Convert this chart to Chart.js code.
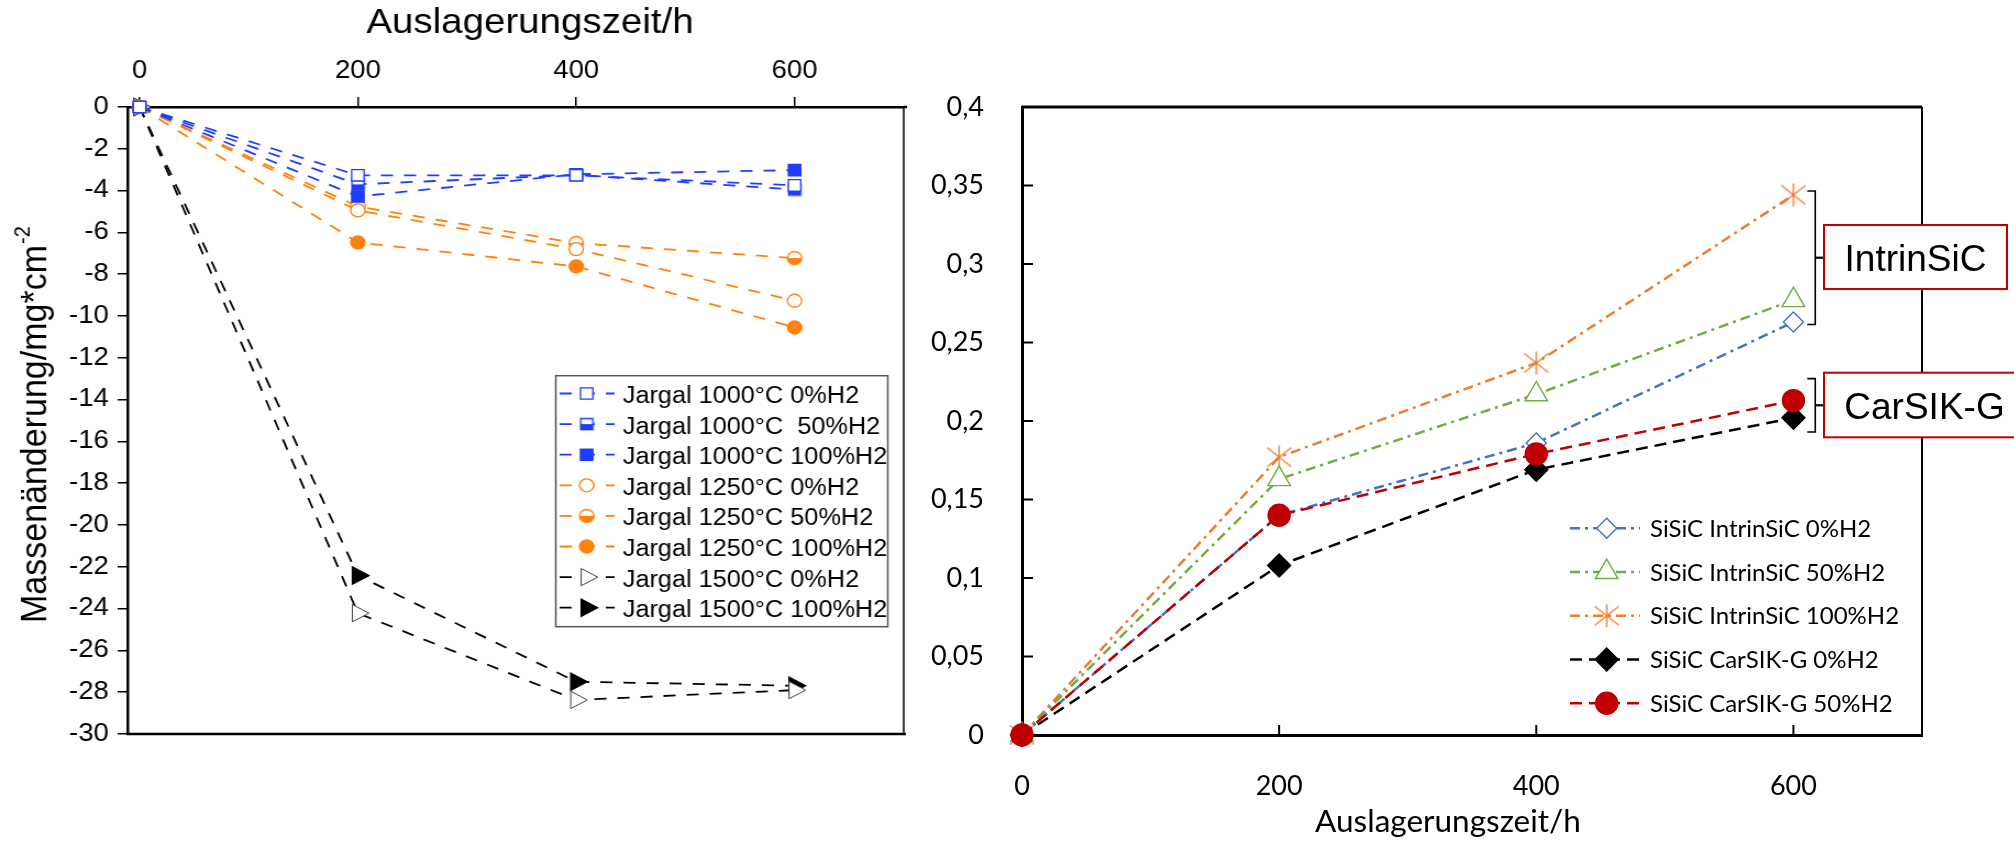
<!DOCTYPE html>
<html>
<head>
<meta charset="utf-8">
<script src="https://cdn.jsdelivr.net/npm/chart.js@4.4.1/dist/chart.umd.min.js"></script>
<style>
  html, body { margin: 0; padding: 0; background: #fff; }
  #wrap { position: relative; width: 2014px; height: 842px; overflow: hidden; }
  #left { position: absolute; left: 0; top: 0; }
  #right { position: absolute; left: 910px; top: 0; }
</style>
</head>
<body>
<div id="wrap">
  <!-- left panel is drawn a bit narrower and stretched, like the original figure -->
  <canvas id="left" width="855" height="842" style="width:940px;height:842px"></canvas>
  <canvas id="right" width="1104" height="842" style="width:1104px;height:842px"></canvas>
</div>
<script>
// ---------- data ----------
const hours = [0, 200, 400, 600];

// left: Jargal, Massenänderung / mg*cm^-2
const jargal1000_0   = [0, -3.27, -3.27, -3.75];
const jargal1000_50  = [0, -3.70, -3.25, -3.95];
const jargal1000_100 = [0, -4.28, -3.22, -3.02];
const jargal1250_0   = [0, -4.95, -6.80, -9.27];
const jargal1250_50  = [0, -4.76, -6.51, -7.23];
const jargal1250_100 = [0, -6.48, -7.63, -10.55];
const jargal1500_0   = [0, -24.22, -28.37, -27.90];
const jargal1500_100 = [0, -22.42, -27.50, -27.69];

const leftNames = ['Jargal 1000°C 0%H2', 'Jargal 1000°C  50%H2', 'Jargal 1000°C 100%H2',
                   'Jargal 1250°C 0%H2', 'Jargal 1250°C 50%H2', 'Jargal 1250°C 100%H2',
                   'Jargal 1500°C 0%H2', 'Jargal 1500°C 100%H2'];
const leftXTicks = [0, 200, 400, 600];
const leftYTicks = [0, -2, -4, -6, -8, -10, -12, -14, -16, -18, -20, -22, -24, -26, -28, -30];

// right: SiSiC
const intrinsic0   = [0, 0.140, 0.186, 0.263];
const intrinsic50  = [0, 0.163, 0.217, 0.277];
const intrinsic100 = [0, 0.177, 0.237, 0.344];
const carsik0      = [0, 0.108, 0.169, 0.202];
const carsik50     = [0, 0.140, 0.179, 0.213];

const rightNames = ['SiSiC IntrinSiC 0%H2', 'SiSiC IntrinSiC 50%H2', 'SiSiC IntrinSiC 100%H2',
                    'SiSiC CarSIK-G 0%H2', 'SiSiC CarSIK-G 50%H2'];
const rightXTicks = [0, 200, 400, 600];
const rightYTicks = [0, 0.05, 0.1, 0.15, 0.2, 0.25, 0.3, 0.35, 0.4];
const rightYLabels = ['0', '0,05', '0,1', '0,15', '0,2', '0,25', '0,3', '0,35', '0,4'];

// ---------- helpers ----------
const FONT_L = '"Liberation Sans", Arial, sans-serif';
const FONT_R = 'Lato, "Open Sans", sans-serif';
const pts = ys => hours.map((h, i) => ({x: h, y: ys[i]}));

function halfMarker(kind, color, size) {
  const c = document.createElement('canvas');
  c.width = size + 3; c.height = size + 3;
  const g = c.getContext('2d');
  const m = c.width / 2, r = size / 2;
  const shape = () => {
    g.beginPath();
    if (kind === 'rect') g.rect(m - r, m - r, size, size);
    else g.arc(m, m, r, 0, Math.PI * 2);
  };
  shape(); g.fillStyle = '#fff'; g.fill();
  g.save(); g.beginPath(); g.rect(0, m, c.width, c.height); g.clip();
  shape(); g.fillStyle = color; g.fill(); g.restore();
  shape(); g.lineWidth = 1.4; g.strokeStyle = color; g.stroke();
  return c;
}

function asterisk(color, w, h) {
  const c = document.createElement('canvas');
  c.width = w + 2; c.height = h + 2;
  const g = c.getContext('2d');
  g.strokeStyle = color; g.lineWidth = 1.4;
  g.beginPath();
  g.moveTo(c.width / 2, 1); g.lineTo(c.width / 2, h + 1);
  g.moveTo(1, 3); g.lineTo(w + 1, h - 1);
  g.moveTo(w + 1, 3); g.lineTo(1, h - 1);
  g.stroke();
  return c;
}

function legendRow(ctx, ds, x1, x2, xm, y, text, tx, font, dy) {
  ctx.save();
  ctx.strokeStyle = ds.borderColor;
  ctx.lineWidth = ds.borderWidth;
  ctx.setLineDash(ds.borderDash || []);
  ctx.beginPath(); ctx.moveTo(x1, y); ctx.lineTo(x2, y); ctx.stroke();
  ctx.setLineDash([]);
  ctx.fillStyle = ds.pointBackgroundColor;
  ctx.strokeStyle = ds.pointBorderColor;
  ctx.lineWidth = ds.pointBorderWidth;
  Chart.helpers.drawPoint(ctx, {pointStyle: ds.pointStyle, rotation: ds.pointRotation || 0,
    radius: ds.pointRadius, borderWidth: ds.pointBorderWidth}, xm, y);
  ctx.fillStyle = '#000';
  ctx.font = font;
  ctx.textBaseline = 'alphabetic';
  ctx.fillText(text, tx, y + dy);
  ctx.restore();
}

function centerText(ctx, text, x, y, font) {
  ctx.save();
  ctx.fillStyle = '#000';
  ctx.font = font;
  ctx.textAlign = 'center';
  ctx.textBaseline = 'middle';
  ctx.fillText(text, x, y);
  ctx.restore();
}

// ---------- left chart ----------
const BLUE = '#1f3dff', ORANGE = '#ff800a', BLACK = '#000000';

function leftSet(i, ys, color, style, bg, radius, rot) {
  return {
    label: leftNames[i], data: pts(ys),
    borderColor: color, borderWidth: 1.8, borderDash: [11, 10],
    pointStyle: style, pointRadius: radius, pointRotation: rot || 0,
    pointBackgroundColor: bg, pointBorderColor: color, pointBorderWidth: 1.3,
    tension: 0, fill: false, clip: false
  };
}

const leftSets = [
  leftSet(0, jargal1000_0, BLUE, 'rect', '#fff', 8),
  leftSet(1, jargal1000_50, BLUE, halfMarker('rect', BLUE, 11), BLUE, 8),
  leftSet(2, jargal1000_100, BLUE, 'rect', BLUE, 8),
  leftSet(3, jargal1250_0, ORANGE, 'circle', '#fff', 6.5),
  leftSet(4, jargal1250_50, ORANGE, halfMarker('circle', ORANGE, 13), ORANGE, 6.5),
  leftSet(5, jargal1250_100, ORANGE, 'circle', ORANGE, 6.5),
  leftSet(6, jargal1500_0, BLACK, 'triangle', '#fff', 10, 90),
  leftSet(7, jargal1500_100, BLACK, 'triangle', BLACK, 10, 90)
];
leftSets[6].pointBorderColor = '#444';
leftSets[6].pointBorderWidth = 1;

const leftDecor = {
  id: 'leftDecor',
  beforeDatasetsDraw(chart) {
    const {ctx, chartArea: a} = chart;
    ctx.save();
    ctx.strokeStyle = '#000';
    ctx.lineWidth = 2.5;
    ctx.beginPath(); ctx.moveTo(a.left - 1, a.bottom); ctx.lineTo(a.right + 2, a.bottom); ctx.stroke();
    ctx.beginPath(); ctx.moveTo(a.right, a.top); ctx.lineTo(a.right + 3, a.top); ctx.stroke();
    ctx.lineWidth = 1.5;
    ctx.beginPath(); ctx.moveTo(a.right, a.top); ctx.lineTo(a.right, a.bottom); ctx.stroke();
    ctx.restore();
  },
  afterDraw(chart) {
    const ctx = chart.ctx;
    // x title (top)
    centerText(ctx, 'Auslagerungszeit/h', 482, 23, '35px ' + FONT_L);

    // y title with superscript
    ctx.save();
    ctx.translate(42, 623);
    ctx.rotate(-Math.PI / 2);
    ctx.fillStyle = '#000';
    ctx.font = '34px ' + FONT_L;
    ctx.textBaseline = 'alphabetic';
    const main = 'Massenänderung/mg*cm';
    ctx.fillText(main, 0, 0);
    const w = ctx.measureText(main).width;
    ctx.font = '20px ' + FONT_L;
    ctx.fillText('-2', w + 1, -15.5);
    ctx.restore();

    // legend box
    ctx.save();
    ctx.fillStyle = '#fff';
    ctx.fillRect(505.5, 375.7, 302, 251);
    ctx.strokeStyle = '#555';
    ctx.lineWidth = 1.5;
    ctx.strokeRect(505.5, 375.7, 302, 251);
    ctx.restore();
    chart.data.datasets.forEach((ds, i) => {
      legendRow(ctx, ds, 509, 559, 533.6, 393.5 + i * 30.6, ds.label, 566.4, '23px ' + FONT_L, 9.5);
    });
  }
};

new Chart(document.getElementById('left'), {
  type: 'line',
  data: {datasets: leftSets},
  options: {
    responsive: false,
    animation: false,
    events: [],
    layout: {autoPadding: false, padding: {left: 0, top: 0, right: 33, bottom: 108}},
    plugins: {legend: {display: false}, tooltip: {enabled: false}},
    scales: {
      x: {
        type: 'linear', position: 'top', min: -11, max: 700,
        afterBuildTicks: s => { s.ticks = leftXTicks.map(v => ({value: v})); },
        afterFit: s => { s.height = 107; },
        ticks: {font: {family: FONT_L, size: 25}, color: '#000', padding: 11, autoSkip: false},
        grid: {drawOnChartArea: false, drawTicks: true, tickLength: 10, color: '#000', lineWidth: 1.5},
        border: {display: true, color: '#000', width: 2.5}
      },
      y: {
        type: 'linear', min: -30, max: 0,
        afterBuildTicks: s => { s.ticks = leftYTicks.map(v => ({value: v})); },
        afterFit: s => { s.width = 116; },
        ticks: {font: {family: FONT_L, size: 25}, color: '#000', padding: 8, autoSkip: false},
        grid: {drawOnChartArea: false, drawTicks: true, tickLength: 9, color: '#000', lineWidth: 1.5},
        border: {display: true, color: '#000', width: 2.5}
      }
    }
  },
  plugins: [leftDecor]
});

// ---------- right chart ----------
const C_BLUE = '#4472c4', C_GREEN = '#70ad47', C_ORANGE = '#ed7d31', C_BLACK = '#000000', C_RED = '#c00000';
const DASHDOT = [10, 5, 3, 5], DASH = [12, 7];

function rightSet(i, ys, color, dash, style, bg, radius, order) {
  return {
    label: rightNames[i], data: pts(ys),
    borderColor: color, borderWidth: 2.5, borderDash: dash,
    pointStyle: style, pointRadius: radius,
    pointBackgroundColor: bg, pointBorderColor: color, pointBorderWidth: 1.4,
    tension: 0, fill: false, clip: false, order: order
  };
}

const rightSets = [
  rightSet(0, intrinsic0, C_BLUE, DASHDOT, 'rectRot', '#fff', 10, 3),
  rightSet(1, intrinsic50, C_GREEN, DASHDOT, 'triangle', '#fff', 13, 4),
  rightSet(2, intrinsic100, C_ORANGE, DASHDOT, asterisk(C_ORANGE, 24, 23), C_ORANGE, 12, 5),
  rightSet(3, carsik0, C_BLACK, DASH, 'rectRot', C_BLACK, 11.5, 2),
  rightSet(4, carsik50, C_RED, DASH, 'circle', C_RED, 11, 1)
];

const rightDecor = {
  id: 'rightDecor',
  beforeDatasetsDraw(chart) {
    const {ctx, chartArea: a, scales: {x, y}} = chart;
    ctx.save();
    ctx.strokeStyle = '#000';
    ctx.lineWidth = 3;
    ctx.beginPath(); ctx.moveTo(a.left, a.top); ctx.lineTo(a.right, a.top); ctx.stroke();
    ctx.lineWidth = 2;
    ctx.beginPath(); ctx.moveTo(a.right, a.top); ctx.lineTo(a.right, a.bottom); ctx.stroke();
    // inside tick marks
    ctx.lineWidth = 2;
    y.ticks.forEach(t => {
      const py = y.getPixelForValue(t.value);
      ctx.beginPath(); ctx.moveTo(a.left, py); ctx.lineTo(a.left + 11, py); ctx.stroke();
    });
    x.ticks.forEach(t => {
      const px = x.getPixelForValue(t.value);
      ctx.beginPath(); ctx.moveTo(px, a.bottom); ctx.lineTo(px, a.bottom - 10); ctx.stroke();
    });
    ctx.restore();
  },
  afterDraw(chart) {
    const {ctx, scales: {x, y}} = chart;
    // x title (bottom)
    centerText(ctx, 'Auslagerungszeit/h', 538, 822, '31.5px ' + FONT_R);

    // brackets + group boxes
    const groups = [
      {name: 'IntrinSiC', hi: 0.3465, lo: 0.2615, box: [914, 225, 183, 64], tx: 1005.5},
      {name: 'CarSIK-G', hi: 0.227, lo: 0.193, box: [914, 372.7, 206, 64.6], tx: 1014.5}
    ];
    const bx = x.getPixelForValue(617);
    groups.forEach(g => {
      const y1 = y.getPixelForValue(g.hi), y2 = y.getPixelForValue(g.lo), ym = (y1 + y2) / 2;
      ctx.save();
      ctx.strokeStyle = '#000';
      ctx.lineWidth = 1.6;
      ctx.beginPath();
      ctx.moveTo(bx - 8, y1); ctx.lineTo(bx, y1); ctx.lineTo(bx, y2); ctx.lineTo(bx - 8, y2);
      ctx.stroke();
      ctx.lineWidth = 2.2;
      ctx.beginPath(); ctx.moveTo(bx, ym); ctx.lineTo(g.box[0], ym); ctx.stroke();
      const [bxl, byt, bw, bh] = g.box;
      ctx.fillStyle = '#fff';
      ctx.fillRect(bxl, byt, bw, bh);
      ctx.strokeStyle = '#c00000';
      ctx.lineWidth = 2;
      ctx.strokeRect(bxl, byt, bw, bh);
      ctx.fillStyle = '#000';
      ctx.font = '37px ' + FONT_L;
      ctx.textAlign = 'center';
      ctx.textBaseline = 'alphabetic';
      ctx.fillText(g.name, g.tx, byt + bh / 2 + 13.5);
      ctx.restore();
    });

    // legend (no frame)
    chart.data.datasets.forEach((ds, i) => {
      legendRow(ctx, ds, 660, 730, 696.7, 528.3 + i * 43.75, ds.label, 740, '24px ' + FONT_R, 8.6);
    });
  }
};

new Chart(document.getElementById('right'), {
  type: 'line',
  data: {datasets: rightSets},
  options: {
    responsive: false,
    animation: false,
    events: [],
    layout: {autoPadding: false, padding: {left: 0, top: 107, right: 92, bottom: 0}},
    plugins: {legend: {display: false}, tooltip: {enabled: false}},
    scales: {
      x: {
        type: 'linear', position: 'bottom', min: 0, max: 700,
        afterBuildTicks: s => { s.ticks = rightXTicks.map(v => ({value: v})); },
        afterFit: s => { s.height = 107; },
        ticks: {font: {family: FONT_R, size: 27}, color: '#000', padding: 27, autoSkip: false},
        grid: {display: false},
        border: {display: true, color: '#000', width: 3}
      },
      y: {
        type: 'linear', min: 0, max: 0.4,
        afterBuildTicks: s => { s.ticks = rightYTicks.map(v => ({value: v})); },
        afterFit: s => { s.width = 112; },
        ticks: {font: {family: FONT_R, size: 27}, color: '#000', padding: 30, autoSkip: false,
                callback: (v, i) => rightYLabels[i]},
        grid: {display: false},
        border: {display: true, color: '#000', width: 3}
      }
    }
  },
  plugins: [rightDecor]
});
</script>
</body>
</html>
